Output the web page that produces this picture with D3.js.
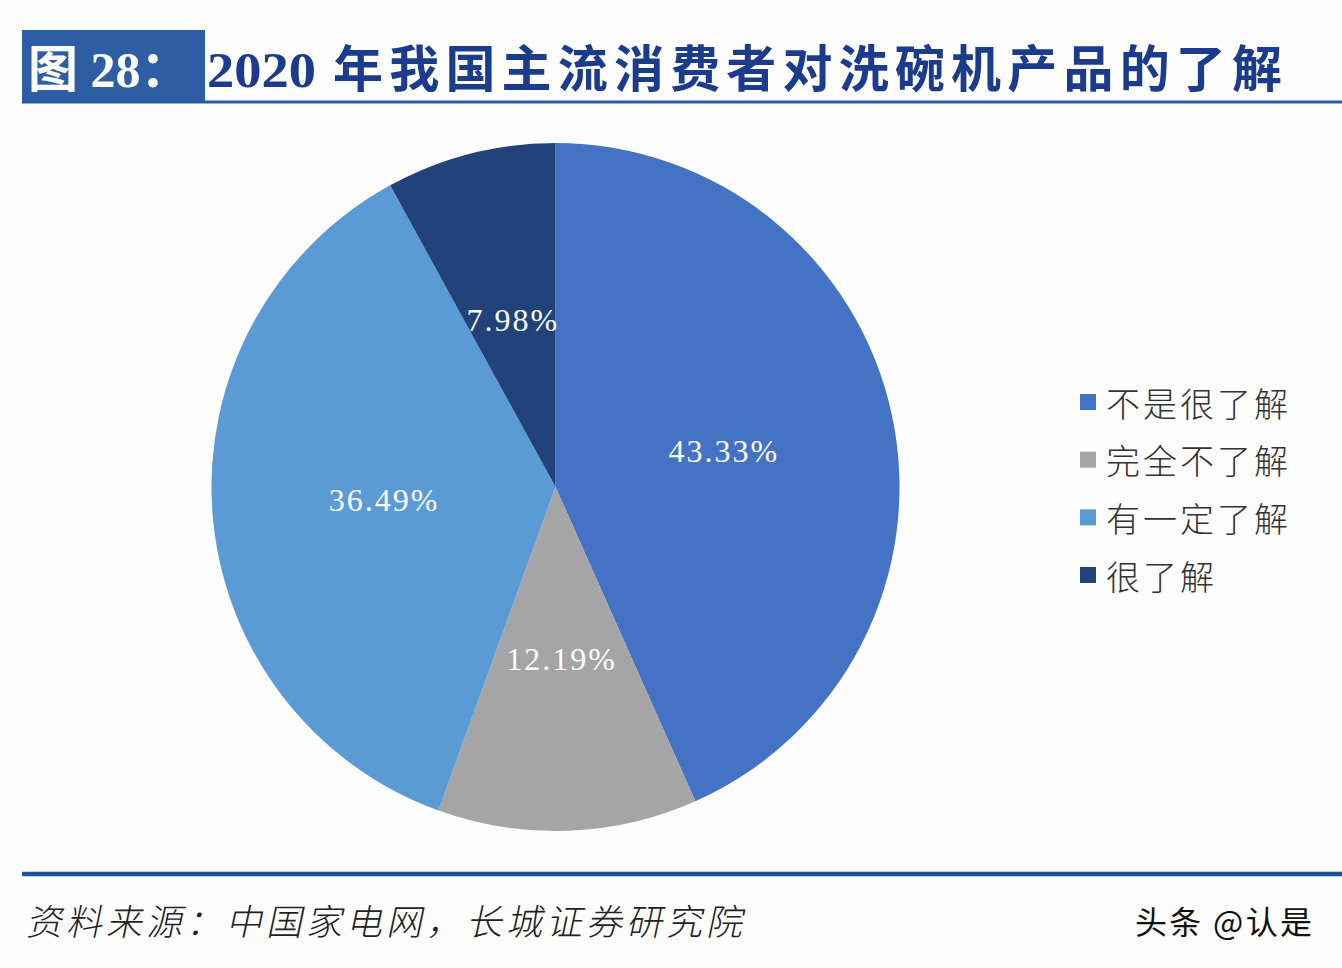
<!DOCTYPE html>
<html><head><meta charset="utf-8">
<script src="https://cdn.jsdelivr.net/npm/d3@7/dist/d3.min.js"></script>
<style>
html,body{margin:0;padding:0;background:#fff;}
svg{display:block;}
</style></head>
<body>
<svg id="chart" width="1342" height="968"></svg>
<script>
const categories = ["不是很了解", "完全不了解", "有一定了解", "很了解"];
const values = [43.33, 12.19, 36.49, 7.98];
const colors = ["#4472C4", "#A5A5A5", "#5B9BD5", "#22427A"];
const titleBox = "图 28：";
const titleYear = "2020";
const titleText = "年我国主流消费者对洗碗机产品的了解";
const sourceText = "资料来源：中国家电网，长城证券研究院";
const watermark = "头条 @认是";

const svg = d3.select("#chart");
const W = 1342, H = 968;
svg.append("rect").attr("width", W).attr("height", H).attr("fill", "#fdfdfe");

// Title
svg.append("rect").attr("x", 22).attr("y", 30).attr("width", 183).attr("height", 73).attr("fill", "#2D5EA3");
svg.append("line").attr("x1", 22).attr("x2", W).attr("y1", 102).attr("y2", 102)
  .attr("stroke", "#2A5BA0").attr("stroke-width", 3);
svg.append("text").attr("x", 28).attr("y", 87)
  .attr("font-family", "'Liberation Serif','Noto Sans CJK SC',serif").attr("font-weight", "bold")
  .attr("font-size", 50).attr("fill", "#fff").text(titleBox);
const tt = svg.append("text").attr("y", 87)
  .attr("font-family", "'Liberation Serif','Noto Sans CJK SC',serif").attr("font-weight", "bold")
  .attr("font-size", 50).attr("fill", "#1B3C8C");
tt.append("tspan").attr("x", 207).attr("textLength", 109).attr("lengthAdjust", "spacingAndGlyphs").text(titleYear);
tt.append("tspan").attr("x", 333).attr("textLength", 949).attr("lengthAdjust", "spacing").text(titleText);

// Pie
const cx = 555.5, cy = 487, r = 344;
const pie = d3.pie().sort(null).value(d => d);
const arcs = pie(values);
const arc = d3.arc().innerRadius(0).outerRadius(r);
const labelArc = d3.arc().innerRadius(r * 0.5).outerRadius(r * 0.5);
const g = svg.append("g").attr("transform", `translate(${cx},${cy})`);
g.selectAll("path").data(arcs).join("path")
  .attr("d", arc).attr("fill", (d, i) => colors[i]);
g.selectAll("text").data(arcs).join("text")
  .attr("transform", d => `translate(${labelArc.centroid(d)})`)
  .attr("text-anchor", "middle").attr("dominant-baseline", "central")
  .attr("font-family", "'Liberation Serif',serif").attr("font-size", 32)
  .attr("letter-spacing", 2)
  .attr("fill", "#fff").text(d => d.data.toFixed(2) + "%");

// Legend
const legY = d3.scalePoint().domain(categories).range([402, 575]);
const leg = svg.append("g").selectAll("g").data(categories).join("g")
  .attr("transform", d => `translate(1080,${legY(d)})`);
leg.append("rect").attr("x", 0).attr("y", -8).attr("width", 16).attr("height", 16)
  .attr("fill", (d, i) => colors[i]);
leg.append("text").attr("x", 26).attr("y", 0).attr("dominant-baseline", "central")
  .attr("font-family", "'Noto Sans CJK SC',sans-serif").attr("font-weight", 300)
  .attr("font-size", 34).attr("letter-spacing", 3).attr("fill", "#333").text(d => d);

// Footer
svg.append("line").attr("x1", 22).attr("x2", W).attr("y1", 874).attr("y2", 874)
  .attr("stroke", "#1F52A0").attr("stroke-width", 4.5);
svg.append("text").attr("x", 26).attr("y", 935)
  .attr("font-family", "'Noto Sans CJK SC',sans-serif").attr("font-weight", 300)
  .attr("font-size", 36).attr("fill", "#222")
  .attr("textLength", 716).attr("lengthAdjust", "spacing").text(sourceText)
  .attr("transform", "translate(26,935) skewX(-12) translate(-26,-935)");
svg.append("text").attr("x", 1135).attr("y", 934)
  .attr("font-family", "'Noto Sans CJK SC',sans-serif").attr("font-weight", 400)
  .attr("font-size", 32).attr("fill", "#111")
  .attr("textLength", 177).attr("lengthAdjust", "spacing").text(watermark);
</script>
</body></html>
